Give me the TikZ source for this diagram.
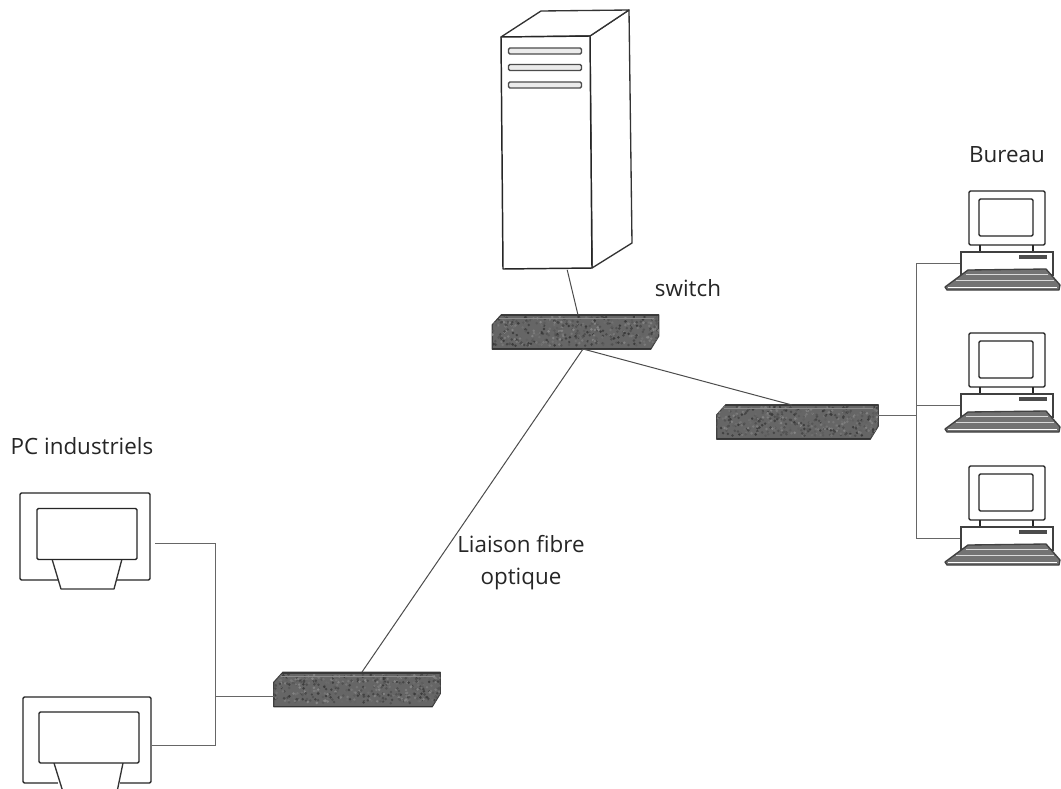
\documentclass[tikz,border=0pt]{standalone}
\usepackage{fontspec}
\setmainfont{Open Sans}
\usetikzlibrary{calc}
\def\pxu{0.75pt}
\tikzset{
  x=0.75pt,y=-0.75pt,
  lbl/.style={font=\fontsize{16.8}{24}\selectfont,text=black!85,align=center,inner sep=0pt},
  wire/.style={draw=black!70,line width=0.75pt},
  thin wire/.style={draw=black!60,line width=0.7pt},
  outline/.style={draw=black!80,line width=1pt,fill=white},
  heavy/.style={draw=black!85,line width=1.1pt,fill=white},
  switchbox/.style={inner sep=0pt,minimum width=#1*\pxu,minimum height=34*\pxu},
  slot/.style={draw=black!70,line width=1pt,fill=black!8,rounded corners=1pt,inner sep=0pt,
    minimum width=73*\pxu,minimum height=6*\pxu},
  screenbox/.style={draw=black!85,line width=1pt,fill=white,rounded corners=1pt,inner sep=0pt},
  pics/desktop/.style={code={
    \node[screenbox,minimum width=76*\pxu,minimum height=54*\pxu] (-mon) at (1007,218) {};
    \node[screenbox,minimum width=54*\pxu,minimum height=37*\pxu] (-scr) at (1006,217.5) {};
    \draw[black!85,line width=1.2pt] (980,245) -- (980,252) (1033,245) -- (1033,252);
    \node[draw=black!75,line width=0.8pt,fill=white,inner sep=0pt,minimum width=92*\pxu,minimum height=23*\pxu] (-base) at (1007,263.5) {};
    \fill[black!70] (1019,255) rectangle (1047,259);
    \draw[draw=black!75,fill=black!55,line width=1pt,line join=round]
      (968,270) -- (1046,269) -- (1060,285) -- (1059,290) -- (947,290) -- (945,287) -- cycle;
    \draw[black!15,line width=0.7pt] (966,274.5) -- (1048,274.5) (956,280) -- (1054,280);
    \draw[white,line width=1pt] (948,287.5) -- (1057,287.5);
  }}
}
% mottled switch body drawn on a named node
\newcommand{\swbody}[1]{%
  \begin{scope}
    \path[draw=black!75,fill=black!60,line width=0.8pt,line join=round]
      ($(#1.north west)+(9,0)$) -- (#1.north east) -- ($(#1.south east)+(0,-13)$)
      -- ($(#1.south east)+(-8,0)$) -- (#1.south west) -- ($(#1.north west)+(0,10)$) -- cycle;
    \clip ($(#1.north west)+(9,0)$) -- (#1.north east) -- ($(#1.south east)+(0,-13)$)
      -- ($(#1.south east)+(-8,0)$) -- (#1.south west) -- ($(#1.north west)+(0,10)$) -- cycle;
    \foreach \i in {1,...,450}{%
      \pgfmathsetmacro\ax{rnd}%
      \pgfmathsetmacro\ay{0.1+rnd*0.85}%
      \pgfmathsetmacro\sh{int(48+rnd*30)}%
      \fill[black!\sh] ($(#1.south west)!\ax!(#1.south east)!\ay!($(#1.north west)!\ax!(#1.north east)$)$) circle[radius=1.4];%
    }%
    \draw[black!78,line width=2pt] (#1.north west) -- (#1.north east);
    \draw[black!45,line width=0.9pt] ($(#1.north west)+(7,4)$) -- ($(#1.north east)+(-5,4)$);
    \draw[black!80,line width=1.5pt] (#1.south west) -- (#1.south east);
  \end{scope}%
}
\begin{document}
\begin{tikzpicture}
\pgfmathsetseed{42}
\useasboundingbox (0,0) rectangle (1061,789);
\fill[white] (0,0) rectangle (1061,789);

% Server
\draw[outline,line join=round] (590,36) -- (629,10) -- (632,243) -- (592,268) -- cycle;
\draw[outline,line join=round] (501,37) -- (541,11) -- (629,10) -- (590,36) -- cycle;
\node[inner sep=0pt] (srvbottom) at (567,269) {};
\draw[heavy,line join=round] (501,37) -- (590,36) -- (592,268) -- (503,269) -- cycle;
\node[slot] (s1) at (545,51) {};
\node[slot] (s2) at (545,67.5) {};
\node[slot] (s3) at (545,85) {};

% Switches
\node[switchbox=166] (swa) at (575.5,332) {};
\node[switchbox=161] (swb) at (797.5,422) {};
\node[switchbox=166] (swc) at (357,689.5) {};
\swbody{swa}
\swbody{swb}
\swbody{swc}

% Named ports
\coordinate (swatop) at (578,315);
\coordinate (swabot) at (583,349);
\coordinate (swbtop) at (792,405);
\coordinate (swctop) at (362,672);

% Links
\draw[wire] (srvbottom) -- (swatop);
\draw[wire] (swabot) -- (swbtop);
\draw[wire] (swabot) -- (swctop);

% Desktops
\pic (da) at (0,0) {desktop};
\pic (db) at (0,142) {desktop};
\pic (dc) at (0,275) {desktop};

\coordinate (trunk) at (916,415);
\draw[thin wire] (swb.east |- trunk) -- (trunk);
\draw[thin wire] (da-base.west) -| (trunk);
\draw[thin wire] (db-base.west) -| (trunk);
\draw[thin wire] (dc-base.west) -| (trunk);

% Industrial PCs
\node[heavy,rounded corners=1pt,inner sep=0pt,minimum width=130*\pxu,minimum height=87*\pxu] (pca) at (85,536.5) {};
\draw[outline,line join=round] (52,559) -- (61,589) -- (114,589) -- (122,559);
\node[screenbox,minimum width=100*\pxu,minimum height=51*\pxu] (pcas) at (87,534) {};

\node[heavy,rounded corners=1pt,inner sep=0pt,minimum width=128*\pxu,minimum height=86*\pxu] (pcb) at (87,740) {};
\fill[white] (58,780) rectangle (120,789);
\draw[outline,line join=round] (54,763) -- (63,792) (123,763) -- (117,792);
\node[screenbox,minimum width=100*\pxu,minimum height=51*\pxu] (pcbs) at (89,737.5) {};

\coordinate (pcaport) at (155,543);
\coordinate (pcbport) at (152,745);
\coordinate (junct) at (215,696);
\draw[thin wire] (pcaport) -| (junct);
\draw[thin wire] (pcbport) -| (junct);
\draw[thin wire] (junct) -- (swc.west |- junct);

% Labels
\node[lbl] (lswitch) at (688,288) {switch};
\node[lbl] (lbureau) at (1007,155) {Bureau};
\node[lbl] (lpc) at (82,446) {PC industriels};
\node[lbl] (lfibre) at (521,563) {Liaison fibre\\optique};
\end{tikzpicture}
\end{document}
